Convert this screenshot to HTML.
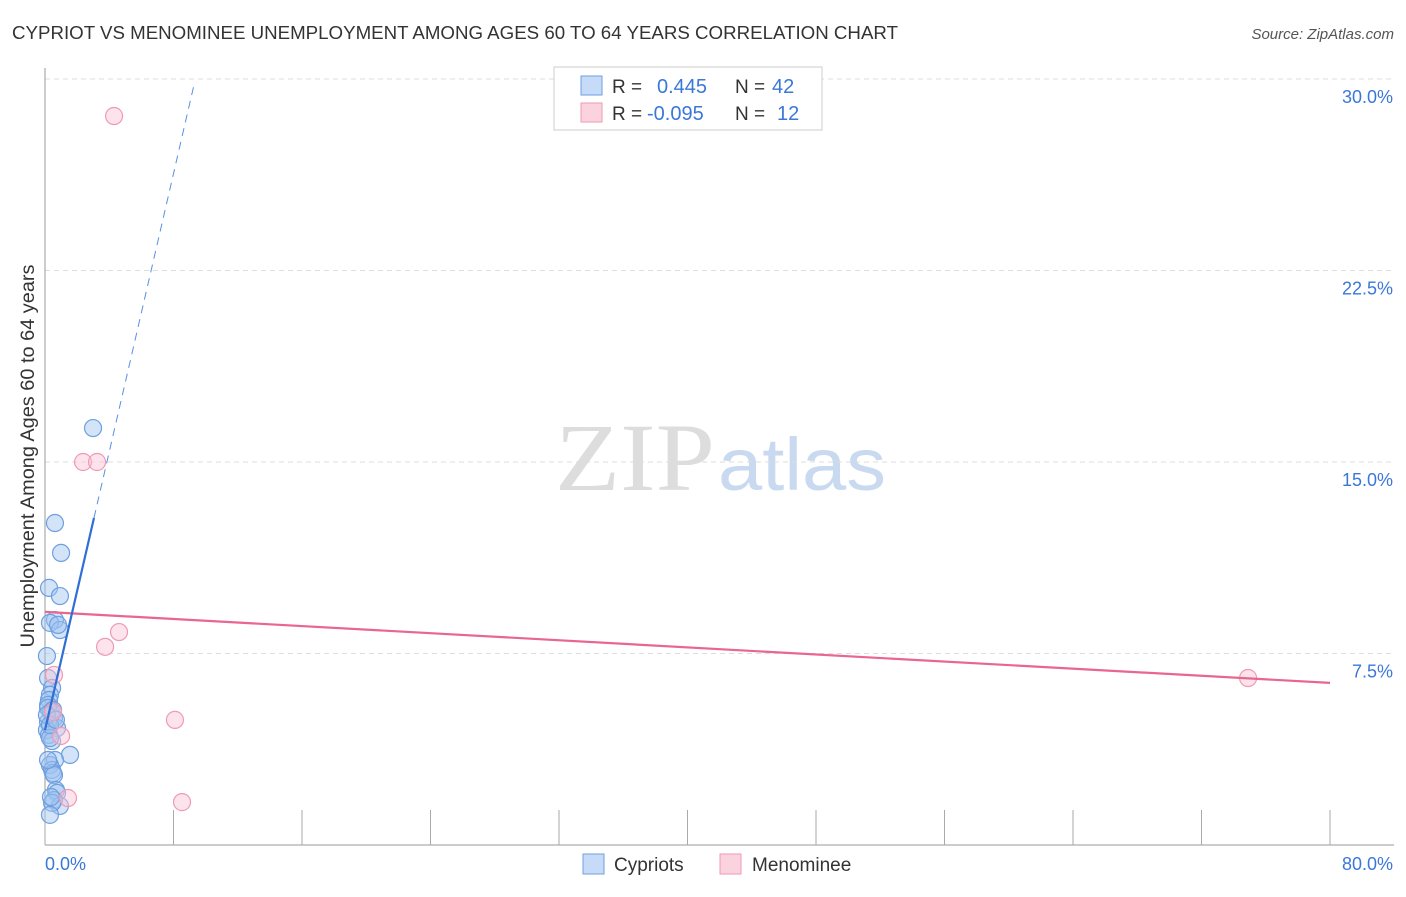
<!DOCTYPE html>
<html><head><meta charset="utf-8"><style>
body{margin:0;background:#fff;font-family:"Liberation Sans",sans-serif;}
svg text{font-family:"Liberation Sans",sans-serif;}
</style></head><body>
<svg width="1406" height="892" id="c">
<text x="12" y="39" font-size="18" fill="#333" textLength="886" lengthAdjust="spacingAndGlyphs">CYPRIOT VS MENOMINEE UNEMPLOYMENT AMONG AGES 60 TO 64 YEARS CORRELATION CHART</text>
<text x="1394" y="39" font-size="15" fill="#555" font-style="italic" text-anchor="end">Source: ZipAtlas.com</text>
<text x="555" y="490" font-size="96" fill="#ddd" textLength="160" lengthAdjust="spacingAndGlyphs" style="font-family:'Liberation Serif',serif">ZIP</text>
<text x="718" y="490" font-size="74" fill="#c9d9f0" textLength="168" lengthAdjust="spacingAndGlyphs">atlas</text>
<text transform="translate(34,456) rotate(-90)" font-size="19" fill="#333" text-anchor="middle" textLength="383" lengthAdjust="spacingAndGlyphs">Unemployment Among Ages 60 to 64 years</text>
<g id="grid"></g><g id="marks"></g>
<g>
<rect x="554" y="67" width="268" height="63" fill="#fff" stroke="#ccc"/>
<rect x="581" y="76" width="21" height="19" fill="#c5dbf7" stroke="#6e9fe0"/>
<rect x="581" y="103" width="21" height="19" fill="#fbd3df" stroke="#ef9ab4"/>
<text x="612" y="93" font-size="19" fill="#333">R = </text><text x="657" y="93" font-size="20" fill="#3a78d8">0.445</text>
<text x="735" y="93" font-size="19" fill="#333">N = </text><text x="772" y="93" font-size="20" fill="#3a78d8">42</text>
<text x="612" y="120" font-size="19" fill="#333">R = </text><text x="647" y="120" font-size="20" fill="#3a78d8">-0.095</text>
<text x="735" y="120" font-size="19" fill="#333">N = </text><text x="777" y="120" font-size="20" fill="#3a78d8">12</text>
</g>
<g>
<rect x="583" y="854" width="21" height="20" fill="#c5dbf7" stroke="#6e9fe0"/>
<text x="614" y="871" font-size="19" fill="#333">Cypriots</text>
<rect x="720" y="854" width="21" height="20" fill="#fbd3df" stroke="#ef9ab4"/>
<text x="752" y="871" font-size="19" fill="#333">Menominee</text>
</g>
</svg>
<script>
const yTicks=[7.5,15,22.5,30];
const yTickLabels=["7.5%","15.0%","22.5%","30.0%"];
const xTicks=[0,8,16,24,32,40,48,56,64,72,80];
const blueX=[2.99,0.62,1.0,0.25,0.93,0.62,0.31,0.93,0.81,0.12,0.19,0.44,0.31,0.25,0.19,0.37,0.56,0.19,0.75,0.12,0.25,0.44,0.31,1.56,0.62,0.31,0.44,0.5,0.56,0.68,0.75,0.56,0.93,0.44,0.31,0.19,0.5,0.12,0.31,0.68,0.19,0.37];
const blueY=[16.33,12.61,11.44,10.07,9.75,8.81,8.7,8.42,8.62,7.4,6.54,6.15,5.88,5.68,5.48,5.21,4.97,4.82,4.58,4.5,4.31,4.07,4.19,3.53,3.33,3.13,2.94,2.82,2.74,2.15,2.04,1.76,1.53,1.65,1.18,5.37,5.29,5.09,4.7,4.9,3.33,1.88];
const pinkX=[4.3,2.37,3.24,4.61,3.74,0.56,0.5,8.09,1.0,1.43,8.53,74.9];
const pinkY=[28.55,15.0,15.0,8.34,7.76,6.66,5.21,4.9,4.27,1.84,1.68,6.54];
const blueLine=[[0,4.5],[3.05,12.81]],blueDash=[[3.05,12.81],[9.25,29.7]];
const pinkLine=[[0,9.13],[80,6.35]];
const X=v=>45+v/80*1285, Y=v=>845-v/30*766;
const NS="http://www.w3.org/2000/svg";
function mk(p,t,a){const e=document.createElementNS(NS,t);for(const k in a)e.setAttribute(k,a[k]);p.appendChild(e);return e;}
const g=document.getElementById('grid'),m=document.getElementById('marks');
yTicks.forEach((t,i)=>{
 const l=mk(g,'line',{x1:45,x2:1394,y1:Y(t),y2:Y(t),stroke:'#ddd','stroke-dasharray':'5,4'});
 
 
 const tx=mk(g,'text',{x:1393,y:Y(t)+24,'font-size':18,fill:'#3a78d8','text-anchor':'end'});
 tx.textContent=yTickLabels[i];
 
 
});
const ax=mk(g,'line',{x1:45,x2:45,y1:68,y2:845,stroke:'#999'});


const bx=mk(g,'line',{x1:45,x2:1394,y1:845,y2:845,stroke:'#999'});


xTicks.forEach(t=>{const l=mk(g,'line',{x1:X(t),x2:X(t),y1:810,y2:845,stroke:'#aaa'});
 
 });
const xl=mk(g,'text',{x:45,y:870,'font-size':18,fill:'#3a78d8'});xl.textContent='0.0%';


const xr=mk(g,'text',{x:1393,y:870,'font-size':18,fill:'#3a78d8','text-anchor':'end'});xr.textContent='80.0%';


blueX.forEach((v,i)=>{const c=mk(m,'circle',{cx:X(v),cy:Y(blueY[i]),r:8.5,fill:'rgba(160,195,240,0.45)',stroke:'#6e9fe0','stroke-width':1.2});
 
 });
pinkX.forEach((v,i)=>{const c=mk(m,'circle',{cx:X(v),cy:Y(pinkY[i]),r:8.5,fill:'rgba(250,195,212,0.45)',stroke:'#ef9ab4','stroke-width':1.2});
 
 });
const pl=mk(m,'line',{x1:X(pinkLine[0][0]),y1:Y(pinkLine[0][1]),x2:X(pinkLine[1][0]),y2:Y(pinkLine[1][1]),stroke:'#e8668f','stroke-width':2.2});


const bl=mk(m,'line',{x1:X(blueLine[0][0]),y1:Y(blueLine[0][1]),x2:X(blueLine[1][0]),y2:Y(blueLine[1][1]),stroke:'#2f6fd6','stroke-width':2.2});


const bd=mk(m,'line',{x1:X(blueDash[0][0]),y1:Y(blueDash[0][1]),x2:X(blueDash[1][0]),y2:Y(blueDash[1][1]),stroke:'#5a8fe0','stroke-width':1,'stroke-dasharray':'8,6'});


</script>
</body></html>
